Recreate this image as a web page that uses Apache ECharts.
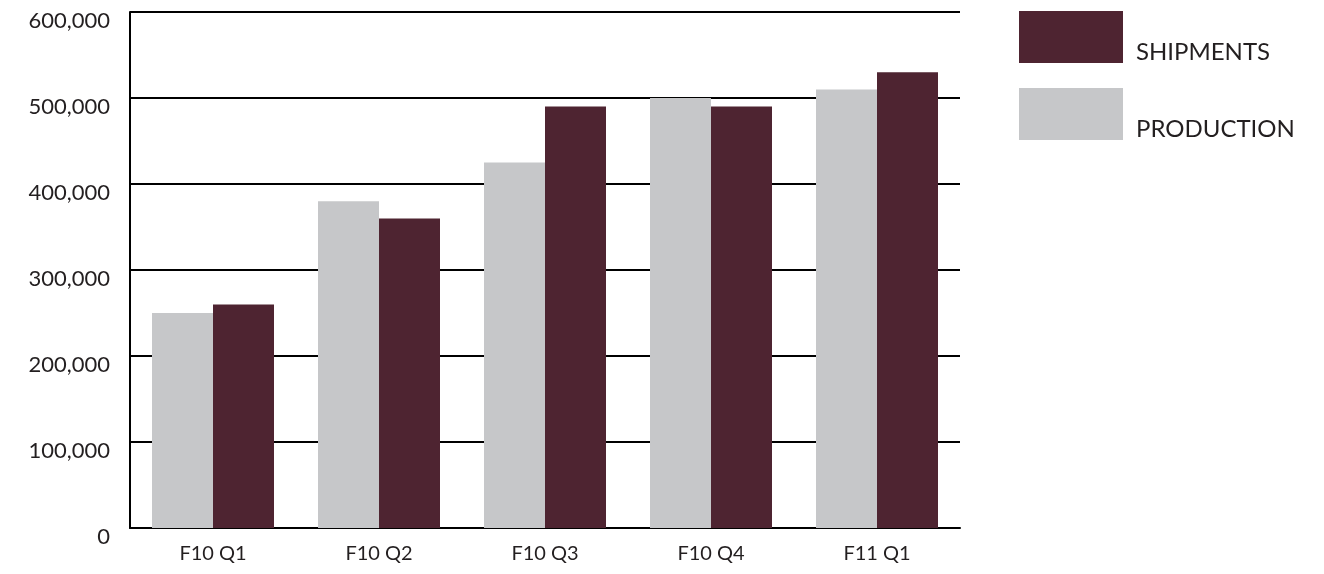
<!DOCTYPE html>
<html>
<head>
<meta charset="utf-8">
<script src="https://cdn.jsdelivr.net/npm/echarts@6/dist/echarts.min.js"></script>
<style>
  html, body { margin: 0; padding: 0; background: #fff; }
  #chart { width: 1324px; height: 574px; }
</style>
</head>
<body>
<div id="chart"></div>
<script>
var quarters = ['F10 Q1', 'F10 Q2', 'F10 Q3', 'F10 Q4', 'F11 Q1'];
var production = [250000, 380000, 425000, 500000, 510000];
var shipments = [260000, 360000, 490000, 490000, 530000];

var labelFont = 'Lato';
var ink = '#231f20';

// legend swatch sits in the top part of a taller box so the label drops below its middle
var swatch = 'path://M0,0H104V52H0Z M0,82L0.01,82';

var myChart = echarts.init(document.getElementById('chart'));

myChart.setOption({
    animation: false,
    backgroundColor: '#fff',
    grid: { left: 130, right: 364, top: 12, bottom: 46 },
    legend: {
        data: ['SHIPMENTS', 'PRODUCTION'],
        orient: 'vertical',
        left: 1019,
        top: 11,
        padding: 0,
        itemWidth: 104,
        itemHeight: 82,
        itemGap: -5,
        icon: swatch,
        textStyle: {
            fontFamily: labelFont,
            fontSize: 24,
            color: ink,
            padding: [0, 0, 0, 8]
        }
    },
    xAxis: {
        type: 'category',
        data: quarters,
        axisLine: { lineStyle: { color: '#000', width: 2 } },
        axisTick: { inside: true, length: 10, lineStyle: { color: '#000', width: 2 } },
        axisLabel: { fontFamily: labelFont, fontSize: 20, color: ink, margin: 16 }
    },
    yAxis: {
        type: 'value',
        min: 0,
        max: 600000,
        interval: 100000,
        axisLine: { show: true, lineStyle: { color: '#000', width: 2 } },
        axisTick: { show: false },
        splitLine: { lineStyle: { color: '#000', width: 2 } },
        axisLabel: {
            fontFamily: labelFont,
            fontSize: 22,
            color: ink,
            margin: 20,
            verticalAlign: 'top',
            lineHeight: 18,
            formatter: function (v) { return v.toLocaleString('en-US'); }
        }
    },
    series: [
        {
            name: 'PRODUCTION',
            type: 'bar',
            data: production,
            barWidth: 61,
            barGap: '0%',
            itemStyle: { color: '#C6C7C9' }
        },
        {
            name: 'SHIPMENTS',
            type: 'bar',
            data: shipments,
            barWidth: 61,
            barGap: '0%',
            itemStyle: { color: '#4E2431' }
        }
    ]
});
</script>
</body>
</html>
